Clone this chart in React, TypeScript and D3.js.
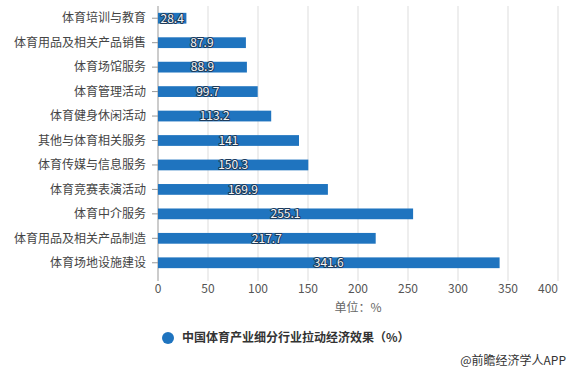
import * as React from 'react';
import * as d3 from 'd3';

const categories = [
  '体育培训与教育',
  '体育用品及相关产品销售',
  '体育场馆服务',
  '体育管理活动',
  '体育健身休闲活动',
  '其他与体育相关服务',
  '体育传媒与信息服务',
  '体育竞赛表演活动',
  '体育中介服务',
  '体育用品及相关产品制造',
  '体育场地设施建设',
];
const values = [28.4, 87.9, 88.9, 99.7, 113.2, 141, 150.3, 169.9, 255.1, 217.7, 341.6];
const xTicks = [0, 50, 100, 150, 200, 250, 300, 350, 400];
const seriesName = '中国体育产业细分行业拉动经济效果（%）';

const W = 571;
const H = 375;
const font = '"Noto Sans CJK SC", "Noto Sans", sans-serif';

const App = () => {
  const x = d3.scaleLinear().domain([0, 400]).range([158, 558]);
  const y = d3.scaleBand().domain(categories).range([6, 275]).paddingInner(0.56).paddingOuter(0.28);

  return (
    <svg width={W} height={H} style={{ position: 'absolute', left: 0, top: 0 }} fontFamily={font}>
      <rect width={W} height={H} fill="#fff" />
      {xTicks.map(t => (
        <line key={t} x1={x(t)} x2={x(t)} y1={6} y2={281} stroke={t === 0 ? '#999' : '#ddd'} strokeWidth={1} />
      ))}
      {xTicks.map(t => (
        <text
          key={'l' + t}
          x={x(t)}
          y={293}
          textAnchor={t === 400 ? 'end' : 'middle'}
          fontSize={12}
          fill="#555"
        >
          {t}
        </text>
      ))}
      <text x={358} y={312} textAnchor="middle" fontSize={12} fill="#666">
        单位：%
      </text>
      {categories.map((c, i) => {
        const cy = (y(c) as number) + y.bandwidth() / 2;
        return (
          <g key={c}>
            <line x1={152} x2={158} y1={cy} y2={cy} stroke="#999" />
            <text x={146} y={cy} dy="0.35em" textAnchor="end" fontSize={12} fill="#444">
              {c}
            </text>
            <rect x={x(0)} y={y(c)} width={x(values[i]) - x(0)} height={y.bandwidth()} fill="#1f74bf" />
            <text
              x={(x(0) + x(values[i])) / 2}
              y={cy}
              dy="0.36em"
              textAnchor="middle"
              fontSize={12}
              fill="#f4f4f4"
              stroke="#1d3a5a"
              strokeWidth={2}
              paintOrder="stroke"
              strokeLinejoin="round"
            >
              {values[i]}
            </text>
          </g>
        );
      })}
      <circle cx={168} cy={338} r={6} fill="#1f74bf" />
      <text x={182} y={338} dy="0.35em" fontSize={12} fill="#333" fontWeight="bold">
        {seriesName}
      </text>
      <text x={566} y={365} textAnchor="end" fontSize={12} fill="#333">
        @前瞻经济学人APP
      </text>
    </svg>
  );
};

export default App;
